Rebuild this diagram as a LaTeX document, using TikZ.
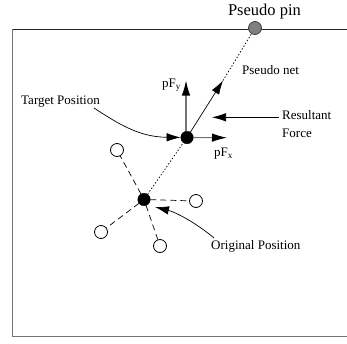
\documentclass[tikz,border=0pt]{standalone}
\usepackage{fontspec}
\setmainfont{Liberation Serif}
\usetikzlibrary{arrows.meta}
\tikzset{
  x=1pt,y=-1pt,
  pinblack/.style={circle,fill=black,draw=black,inner sep=0pt,minimum size=12.5pt},
  pinwhite/.style={circle,fill=white,draw=black,line width=0.8pt,inner sep=0pt,minimum size=13pt},
  pingray/.style={circle,fill=black!50,draw=black!75,line width=0.8pt,inner sep=0pt,minimum size=13pt},
  lab/.style={inner sep=0pt,font=\fontsize{13}{15}\selectfont},
  arr/.style={-{Latex[length=14pt,width=8.5pt]},line width=0.7pt},
  graystem/.style={-{Latex[length=15pt,width=8.5pt]},line width=1.1pt,draw=black!55,
    arrows={-{Latex[length=15pt,width=8.5pt,black]}}},
  netd/.style={dash pattern=on 6pt off 4pt,line width=0.7pt},
  dotd/.style={dash pattern=on 1.3pt off 2pt,line width=0.8pt},
}
\begin{document}
\begin{tikzpicture}
\useasboundingbox (0,0) rectangle (347,343);
\draw[line width=0.7pt,black!85] (347,29.5) -- (12.5,29.5);
\draw[line width=1.2pt,black!55] (12.5,29) -- (12.5,336.5) -- (347,336.5);
\node[pingray] (pp) at (255,28) {};
\node[pinblack] (t) at (187,137.5) {};
\node[pinblack] (o) at (144,199.5) {};
\node[pinwhite] (w1) at (117,150) {};
\node[pinwhite] (w2) at (196,201) {};
\node[pinwhite] (w3) at (101,232) {};
\node[pinwhite] (w4) at (160,246) {};
\coordinate (fy) at (186,80.5);
\coordinate (fx) at (227,137.7);
\coordinate (fr) at (223,80.5);
\coordinate (rf) at (212,117.3);
\coordinate (rs) at (279,117.3);
\coordinate (ts) at (94,108);
\coordinate (oe) at (214,238);
\coordinate (oa) at (155,207);
\node[lab,anchor=base,font=\fontsize{16.5}{18}\selectfont] (lpp) at (264.5,15) {Pseudo pin};
\node[lab,anchor=west] (lpn) at (242,70.5) {Pseudo net};
\node[lab,anchor=west] (lt) at (21,102) {Target Position};
\node[lab,anchor=west] (lr) at (282,115) {Resultant};
\node[lab,anchor=west] (lf) at (282,133) {Force};
\node[lab,anchor=west] (lo) at (211,246) {Original Position};
\node[lab,anchor=east] (ly) at (181,85) {pF$_{\mathrm{y}}$};
\node[lab,anchor=west] (lx) at (214,154) {pF$_{\mathrm{x}}$};
\draw[graystem] (t.north -| fy) -- (fy);
\draw[graystem] (t) -- (fx);
\draw[arr] (t) -- (fr);
\draw[dotd] (fr) -- (pp);
\draw[dotd] (o) -- (t);
\draw[arr] (rs) -- (rf);
\draw[arr] (ts) .. controls (120,125) and (140,137) .. (t);
\draw[arr] (oe) .. controls (195,222) and (175,212) .. (oa);
\draw[netd] (o) -- (w1);
\draw[netd] (o) -- (w2);
\draw[netd] (o) -- (w3);
\draw[netd] (o) -- (w4);
\end{tikzpicture}
\end{document}
